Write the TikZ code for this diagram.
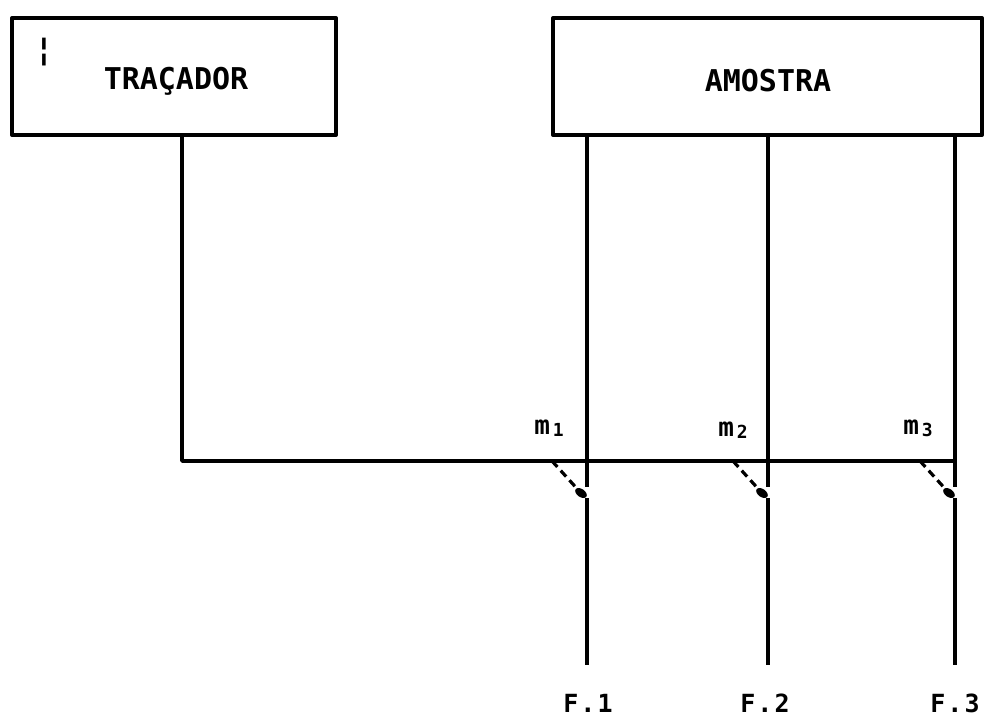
\documentclass[tikz,border=0pt]{standalone}
\usepackage{fontspec}
\usetikzlibrary{shapes.geometric}
\setmainfont{DejaVu Sans Mono}
\begin{document}
\begin{tikzpicture}[x=1pt,y=-1pt,
  frame/.style={line width=4pt,line join=round},
  pipe/.style={line width=3.4pt},
  valve/.style={line width=3.2pt,dash pattern=on 8pt off 5pt},
  blob/.style={fill,ellipse,inner sep=0pt,minimum width=13pt,minimum height=8pt,rotate=-35},
  big/.style={font=\fontsize{30}{32}\selectfont\bfseries},
  mlab/.style={font=\fontsize{26}{28}\selectfont\bfseries},
  flab/.style={font=\fontsize{25}{27}\selectfont\bfseries}]
\useasboundingbox (0,0) rectangle (989,720);

% source and sample boxes
\draw[frame] (12,18) rectangle (336,135);
\node[big] (tracador) at (176,81) {TRAÇADOR};
\node[font=\fontsize{32}{34}\selectfont\bfseries] (mark) at (44,52) {¦};
\draw[frame] (553,18) rectangle (982,135);
\node[big] (amostra) at (768,81) {AMOSTRA};

% tracer feed line and mixing junctions
\coordinate (t0) at (182,135);
\coordinate (corner) at (182,461);
\foreach \i/\x in {1/587,2/768,3/955}{
  \coordinate (top\i) at (\x,135);
  \coordinate (j\i) at (\x,461);
  \coordinate (up\i) at (\x,487);
  \coordinate (dn\i) at (\x,498);
  \coordinate (end\i) at (\x,665);
  \coordinate (vs\i) at (\x-35,461);
  \coordinate (ve\i) at (\x-6,493);
}
\draw[pipe,line join=round] (t0) -- (corner) -- (j3);
\foreach \i in {1,2,3}{
  \draw[pipe] (top\i) -- (up\i);
  \draw[pipe] (dn\i) -- (end\i);
  \draw[valve] (vs\i) -- (ve\i);
  \node[blob] at (ve\i) {};
}

% junction labels
\node[mlab] (m1) at (549,428) {m\raisebox{-2pt}{\fontsize{18}{18}\selectfont\,1}};
\node[mlab] (m2) at (733,430) {m\raisebox{-2pt}{\fontsize{18}{18}\selectfont\,2}};
\node[mlab] (m3) at (918,428) {m\raisebox{-2pt}{\fontsize{18}{18}\selectfont\,3}};

% fraction labels
\node[flab] (f1) at (588,703) {F\kern2pt.\kern2pt1};
\node[flab] (f2) at (765,703) {F\kern2pt.\kern2pt2};
\node[flab] (f3) at (955,703) {F\kern2pt.\kern2pt3};
\end{tikzpicture}
\end{document}
